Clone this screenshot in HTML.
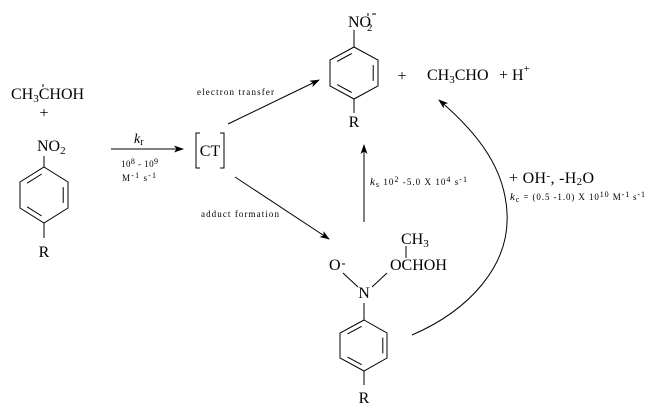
<!DOCTYPE html>
<html><head><meta charset="utf-8"><style>
html,body{margin:0;padding:0;background:#fff;}
svg{display:block;}
text{font-family:"Liberation Serif","DejaVu Serif",serif;fill:#000;}
</style></head><body>
<svg width="650" height="410" viewBox="0 0 650 410" xmlns="http://www.w3.org/2000/svg">
<defs>
<marker id="a" markerWidth="10" markerHeight="8" refX="9" refY="4" orient="auto" markerUnits="userSpaceOnUse"><path d="M0,0.5 L10,4 L0,7.5 L2.5,4 z" fill="#000"/></marker>
</defs>
<g stroke="#000" stroke-width="1" fill="none">
<!-- left ring -->
<polygon points="44,167 68,182 68,208 44,223 20,208 20,182"/>
<line x1="41.7" y1="174" x2="27.1" y2="183.2"/>
<line x1="63.2" y1="187.1" x2="63.2" y2="202.9"/>
<line x1="27.1" y1="206.8" x2="41.7" y2="216"/>
<line x1="44" y1="167" x2="44" y2="156"/>
<line x1="44" y1="223" x2="44" y2="238"/>
<!-- top ring -->
<polygon points="354,47 378,60 378,86 354,99 330,86 330,60"/>
<line x1="351.7" y1="53.5" x2="337.1" y2="61.4"/>
<line x1="373.2" y1="65.1" x2="373.2" y2="80.9"/>
<line x1="337.1" y1="84.6" x2="351.7" y2="92.5"/>
<line x1="354" y1="47" x2="354" y2="30"/>
<line x1="354" y1="99" x2="354" y2="113"/>
<!-- bottom ring -->
<polygon points="364,320 387,333 387,358 364,371 340,358 340,333"/>
<line x1="361.7" y1="326.3" x2="347.5" y2="333.9"/>
<line x1="382.8" y1="337.6" x2="382.8" y2="353.4"/>
<line x1="347.5" y1="357.1" x2="361.7" y2="364.7"/>
<line x1="364" y1="303" x2="364" y2="320"/>
<line x1="364" y1="371" x2="364" y2="385"/>
<line x1="343" y1="273" x2="358" y2="287"/>
<line x1="387" y1="273" x2="372" y2="287"/>
<line x1="406" y1="246" x2="406" y2="258"/>
<!-- CT brackets -->
<polyline points="200,133 196,133 196,168 200,168"/>
<polyline points="220,133 224,133 224,168 220,168"/>
<!-- arrows -->
<line x1="111" y1="149" x2="183" y2="149" marker-end="url(#a)"/>
<line x1="228" y1="124" x2="319" y2="80" marker-end="url(#a)"/>
<line x1="235" y1="177" x2="329" y2="239" marker-end="url(#a)"/>
<line x1="364" y1="222" x2="364" y2="145" marker-end="url(#a)"/>
<path d="M412,335 C470,310 510,265 507,213 C505,170 480,135 439,100" marker-end="url(#a)"/>
<!-- radical dots -->
<line x1="43" y1="84" x2="43" y2="87"/>
<line x1="368" y1="13" x2="368" y2="16"/>
<line x1="372" y1="14" x2="376" y2="14"/>
<line x1="342" y1="264" x2="345" y2="264"/>
</g>

<!-- left reactants -->
<text x="11" y="99" font-size="16">CH<tspan font-size="11" dy="3">3</tspan><tspan dy="-3">CHOH</tspan></text>
<text x="44" y="118" font-size="16" text-anchor="middle">+</text>
<text x="37" y="151" font-size="16">NO<tspan font-size="11" dy="3">2</tspan></text>
<text x="44" y="257" font-size="16" text-anchor="middle">R</text>

<!-- kr arrow labels -->
<text x="134" y="143" font-size="14"><tspan font-style="italic">k</tspan><tspan font-size="10" dy="2">r</tspan></text>
<text x="121" y="167" font-size="9" textLength="37" lengthAdjust="spacing">10<tspan font-size="8" dy="-3">8</tspan><tspan dy="3"> - 10</tspan><tspan font-size="8" dy="-3">9</tspan></text>
<text x="122" y="181" font-size="9" textLength="34" lengthAdjust="spacing">M<tspan font-size="8" dy="-3">-1 </tspan><tspan dy="3">s</tspan><tspan font-size="8" dy="-3">-1</tspan></text>

<!-- CT -->
<text x="210" y="156" font-size="16" text-anchor="middle">CT</text>

<!-- small labels -->
<text x="197" y="95" font-size="9" textLength="77" lengthAdjust="spacing">electron transfer</text>
<text x="201" y="217" font-size="9" textLength="78" lengthAdjust="spacing">adduct formation</text>

<!-- top product -->
<text x="348" y="27" font-size="16">NO</text>
<text x="367" y="31" font-size="11">2</text>
<text x="354" y="127" font-size="16" text-anchor="middle">R</text>
<text x="402" y="81" font-size="16" text-anchor="middle">+</text>
<text x="427" y="80" font-size="16">CH<tspan font-size="11" dy="3">3</tspan><tspan dy="-3">CHO</tspan></text>
<text x="499" y="80" font-size="16">+ H<tspan font-size="11" dy="-8">+</tspan></text>

<!-- ks -->
<text x="370" y="185" font-size="9" textLength="97" lengthAdjust="spacing"><tspan font-style="italic" font-size="11">k</tspan><tspan font-size="8" dy="2">s</tspan><tspan dy="-2">  10</tspan><tspan font-size="8" dy="-3">2</tspan><tspan dy="3"> -5.0 X 10</tspan><tspan font-size="8" dy="-3">4</tspan><tspan dy="3"> s</tspan><tspan font-size="8" dy="-3">-1</tspan></text>

<!-- OH / kc -->
<text x="509" y="183" font-size="16" textLength="85" lengthAdjust="spacing">+ OH<tspan font-size="11" dy="-4">-</tspan><tspan dy="4">, -H</tspan><tspan font-size="11" dy="2">2</tspan><tspan dy="-2">O</tspan></text>
<text x="510" y="200" font-size="9" textLength="135" lengthAdjust="spacing"><tspan font-style="italic" font-size="11">k</tspan><tspan font-size="8" dy="2">c</tspan><tspan dy="-2"> = (0.5 -1.0) X 10</tspan><tspan font-size="8" dy="-3">10</tspan><tspan dy="3"> M</tspan><tspan font-size="8" dy="-3">-1 </tspan><tspan dy="3">s</tspan><tspan font-size="8" dy="-3">-1</tspan></text>

<!-- adduct -->
<text x="401" y="244" font-size="16">CH<tspan font-size="11" dy="3">3</tspan></text>
<text x="390" y="270" font-size="16">OCHOH</text>
<text x="329" y="270" font-size="16">O</text>
<text x="364" y="298" font-size="16" text-anchor="middle">N</text>
<text x="364" y="403" font-size="16" text-anchor="middle">R</text>
</svg>
</body></html>
